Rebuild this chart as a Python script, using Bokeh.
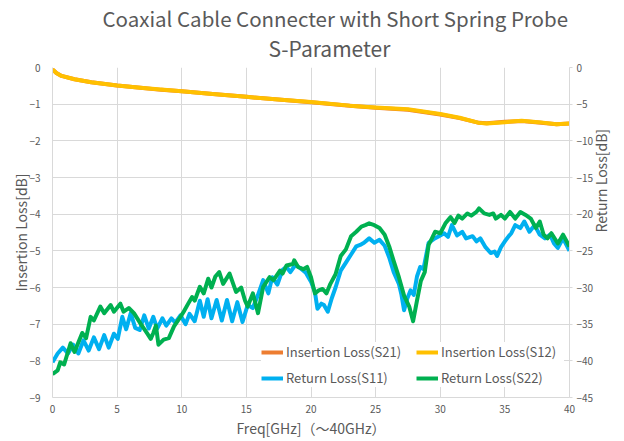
import math
from bokeh.plotting import figure
from bokeh.models import (Range1d, LinearAxis, Legend, LegendItem, Title,
                          FixedTicker)
from bokeh.embed import file_html
from bokeh.resources import INLINE

FONT = "Noto Sans CJK JP"
GREY = "#595959"
GRID = "#D9D9D9"

# ---------------- data ----------------
il_freq = [0, 0.3, 0.7, 1.7, 3.0, 5.0, 7.0, 8.4, 10.0, 12.4, 15.0, 17.7, 20.0,
           23.0, 25.0, 27.5, 30.0, 31.5, 33.0, 33.6, 35.0, 36.3, 37.6, 39.0, 40.0]
s12_db = [-0.05, -0.15, -0.23, -0.32, -0.40, -0.49, -0.56, -0.60, -0.65, -0.72,
          -0.80, -0.88, -0.94, -1.04, -1.09, -1.14, -1.27, -1.37, -1.51, -1.53,
          -1.49, -1.45, -1.49, -1.55, -1.53]
s21_db = [-0.05, -0.15, -0.23, -0.32, -0.40, -0.49, -0.56, -0.61, -0.65, -0.72,
          -0.80, -0.88, -0.95, -1.04, -1.10, -1.15, -1.28, -1.38, -1.51, -1.52,
          -1.48, -1.46, -1.50, -1.55, -1.53]

s11_freq = [0.0, 0.4, 0.8, 1.2, 1.6, 2.0, 2.4, 2.8, 3.2, 3.6, 4.0, 4.35, 4.75,
            5.05, 5.4, 5.7, 6.05, 6.4, 6.75, 7.1, 7.45, 7.8, 8.1, 8.5, 8.8, 9.2,
            9.5, 9.9, 10.3, 10.6, 11.0, 11.4, 11.7, 12.0, 12.3, 12.7, 13.1, 13.5,
            13.9, 14.3, 14.7, 15.1, 15.5, 15.9, 16.3, 16.7, 17.0, 17.4, 17.8,
            18.1, 18.4, 18.8, 19.2, 19.6, 20.0, 20.3, 20.5, 20.8, 21.0, 21.3,
            21.6, 21.9, 22.3, 22.7, 23.1, 23.5, 23.8, 24.1, 24.5, 24.9, 25.3,
            25.7, 26.05, 26.4, 26.8, 27.0, 27.2, 27.45, 27.7, 27.95, 28.2, 28.45,
            28.7, 29.1, 29.5, 29.9, 30.3, 30.6, 30.9, 31.3, 31.7, 32.0, 32.5,
            32.8, 33.1, 33.5, 33.9, 34.2, 34.4, 34.7, 35.0, 35.3, 35.5, 35.8,
            36.2, 36.5, 36.9, 37.3, 37.7, 38.1, 38.5, 38.8, 39.1, 39.5, 40.0]
s11_db = [-40.2, -39.0, -38.2, -39.0, -37.8, -39.0, -37.2, -38.6, -36.8, -38.4,
          -36.5, -38.2, -36.3, -37.0, -34.0, -35.7, -33.5, -35.5, -35.8, -33.8,
          -35.6, -34.0, -35.6, -34.2, -35.2, -34.2, -34.8, -33.8, -35.0, -33.6,
          -34.6, -31.8, -34.0, -31.6, -34.2, -31.7, -34.5, -31.7, -34.6, -32.0,
          -34.7, -32.4, -32.8, -31.0, -29.0, -30.8, -28.6, -29.6, -27.6, -27.2,
          -27.9, -26.9, -27.4, -28.0, -29.2, -30.6, -32.9, -32.2, -32.4, -33.3,
          -31.5, -30.0, -27.7, -26.6, -25.5, -24.4, -24.2, -23.9, -23.3, -23.9,
          -23.5, -24.3, -25.9, -27.9, -29.5, -31.0, -33.1, -31.5, -30.4, -31.0,
          -28.5, -27.2, -27.5, -23.9, -23.4, -23.0, -22.6, -23.1, -21.5, -22.9,
          -22.4, -23.3, -23.0, -23.7, -23.3, -24.5, -25.3, -25.1, -25.7, -24.5,
          -23.7, -23.0, -22.6, -21.5, -21.9, -21.0, -22.4, -21.5, -22.8, -23.3,
          -22.8, -24.0, -24.6, -23.3, -25.0]

s22_freq = [0.0, 0.4, 0.6, 0.9, 1.4, 1.7, 2.3, 2.6, 2.95, 3.2, 3.7, 4.0, 4.5,
            4.75, 5.25, 5.5, 5.9, 6.3, 6.8, 7.3, 7.6, 7.8, 8.0, 8.2, 8.6, 9.0,
            9.4, 9.9, 10.15, 10.5, 10.8, 11.0, 11.4, 11.7, 12.05, 12.3, 12.6,
            12.9, 13.2, 13.7, 14.2, 14.6, 14.9, 15.1, 15.5, 15.9, 16.3, 16.8,
            17.1, 17.6, 17.8, 18.1, 18.6, 18.7, 19.0, 19.4, 19.7, 20.0, 20.3,
            20.6, 20.9, 21.2, 21.5, 21.9, 22.3, 22.7, 23.1, 23.5, 23.9, 24.2,
            24.5, 24.9, 25.3, 25.7, 26.05, 26.4, 26.8, 27.2, 27.6, 27.9, 28.2,
            28.5, 28.8, 29.1, 29.3, 29.6, 30.0, 30.4, 30.8, 31.1, 31.4, 31.7,
            32.1, 32.4, 32.8, 33.0, 33.4, 33.8, 34.1, 34.3, 34.7, 35.0, 35.4,
            35.8, 36.2, 36.6, 37.0, 37.4, 37.7, 38.0, 38.3, 38.6, 39.1, 39.5,
            40.0]
s22_db = [-41.8, -41.3, -40.2, -40.5, -37.6, -38.8, -36.2, -36.9, -34.0, -34.5,
          -32.6, -33.5, -32.4, -33.3, -32.2, -33.3, -32.8, -33.5, -34.9, -36.2,
          -37.0, -36.2, -35.2, -37.8, -37.1, -36.9, -35.3, -34.0, -33.3, -32.2,
          -31.3, -31.8, -29.9, -30.8, -28.8, -30.0, -28.5, -27.9, -29.5, -28.1,
          -30.6, -30.0, -31.8, -32.6, -30.8, -33.5, -29.9, -28.6, -29.0, -27.7,
          -28.1, -27.0, -26.8, -26.3, -27.2, -27.5, -27.2, -28.6, -30.8, -30.4,
          -30.2, -30.8, -29.5, -28.2, -25.7, -24.8, -23.0, -22.4, -21.7, -21.5,
          -21.25, -21.5, -21.9, -22.8, -24.4, -26.4, -28.6, -31.1, -32.6, -34.6,
          -31.8, -29.1, -27.9, -24.2, -23.5, -22.4, -22.6, -21.25, -20.4, -21.2,
          -20.2, -20.6, -19.9, -20.2, -19.7, -19.2, -19.9, -20.1, -19.9, -20.6,
          -20.1, -20.6, -19.7, -20.6, -19.7, -20.1, -20.6, -21.9, -21.0, -22.8,
          -23.3, -22.6, -24.0, -22.8, -24.4]

x_ticks = [0, 5, 10, 15, 20, 25, 30, 35, 40]
left_ticks = [0, -1, -2, -3, -4, -5, -6, -7, -8, -9]
right_ticks = [0, -5, -10, -15, -20, -25, -30, -35, -40, -45]

title_line1 = "Coaxial Cable Connecter with Short Spring Probe"
title_line2 = "S-Parameter"
x_label = "Freq[GHz]（～40GHz）"
y_left_label = "Insertion Loss[dB]"
y_right_label = "Return Loss[dB]"
names = ["Insertion Loss(S21)", "Insertion Loss(S12)",
         "Return Loss(S11)", "Return Loss(S22)"]
colors = ["#ED7D31", "#FFC000", "#00B0F0", "#00B050"]

# ---------------- figure ----------------
p = figure(width=624, height=441, output_backend="svg", toolbar_location=None,
           x_range=Range1d(0, 40), y_range=Range1d(-9, 0),
           min_border_left=52, min_border_right=53, min_border_top=67,
           min_border_bottom=44)
p.extra_y_ranges = {"rl": Range1d(-45, 0)}
p.outline_line_color = None
p.background_fill_color = "white"
p.border_fill_color = "white"

r21 = p.line(il_freq, s21_db, color=colors[0], line_width=4, line_join="round")
r12 = p.line(il_freq, s12_db, color=colors[1], line_width=4, line_join="round")
r11 = p.line(s11_freq, s11_db, color=colors[2], line_width=4, line_join="round",
             y_range_name="rl")
r22 = p.line(s22_freq, s22_db, color=colors[3], line_width=4, line_join="round",
             y_range_name="rl")

def style_axis(ax):
    ax.axis_line_color = GRID
    ax.major_tick_line_color = None
    ax.minor_tick_line_color = None
    ax.major_tick_out = 0
    ax.major_tick_in = 0
    ax.minor_tick_out = 0
    ax.minor_tick_in = 0
    ax.major_label_text_color = GREY
    ax.major_label_text_font = FONT
    ax.major_label_text_font_size = "10px"
    ax.axis_label_text_color = GREY
    ax.axis_label_text_font = FONT
    ax.axis_label_text_font_size = "14px"
    ax.axis_label_text_font_style = "normal"

xa = p.xaxis[0]
xa.ticker = FixedTicker(ticks=x_ticks)
xa.axis_label = x_label
style_axis(xa)
xa.major_label_standoff = 7
xa.axis_label_standoff = 2

ya = p.yaxis[0]
ya.ticker = FixedTicker(ticks=left_ticks)
ya.axis_label = y_left_label
style_axis(ya)
ya.major_label_standoff = 12
ya.axis_label_standoff = -5

ra = LinearAxis(y_range_name="rl", ticker=FixedTicker(ticks=right_ticks),
                axis_label=y_right_label)
style_axis(ra)
ra.major_tick_line_color = GRID
ra.major_tick_out = 3
ra.major_label_standoff = 4
ra.axis_label_standoff = 5
if "axis_label_orientation" in ra.properties():
    ra.axis_label_orientation = math.pi / 2
p.add_layout(ra, "right")

p.xgrid.ticker = FixedTicker(ticks=x_ticks)
p.ygrid.ticker = FixedTicker(ticks=left_ticks)
p.xgrid.grid_line_color = GRID
p.ygrid.grid_line_color = GRID

t2 = Title(text=title_line2, align="left", offset=216, text_font=FONT,
           text_font_size="21px", text_font_style="normal", text_color=GREY,
           standoff=10)
t1 = Title(text=title_line1, align="left", offset=50, text_font=FONT,
           text_font_size="20.5px", text_font_style="normal", text_color=GREY,
           standoff=-14)
p.add_layout(t2, "above")
p.add_layout(t1, "above")

# column-major fill: col 1 = S21, S11 ; col 2 = S12, S22
legend = Legend(items=[LegendItem(label=names[0], renderers=[r21]),
                       LegendItem(label=names[2], renderers=[r11]),
                       LegendItem(label=names[1], renderers=[r12]),
                       LegendItem(label=names[3], renderers=[r22])],
                ncols=2, location=(209, 10),
                label_text_font=FONT, label_text_font_size="13px",
                label_text_color=GREY, glyph_width=22, glyph_height=12,
                label_height=12, label_width=123, label_standoff=3, spacing=7,
                padding=4, margin=0, border_line_color=None,
                background_fill_color="white", background_fill_alpha=1.0)
p.add_layout(legend, "center")

open("out.html", "w").write(file_html(p, INLINE))
